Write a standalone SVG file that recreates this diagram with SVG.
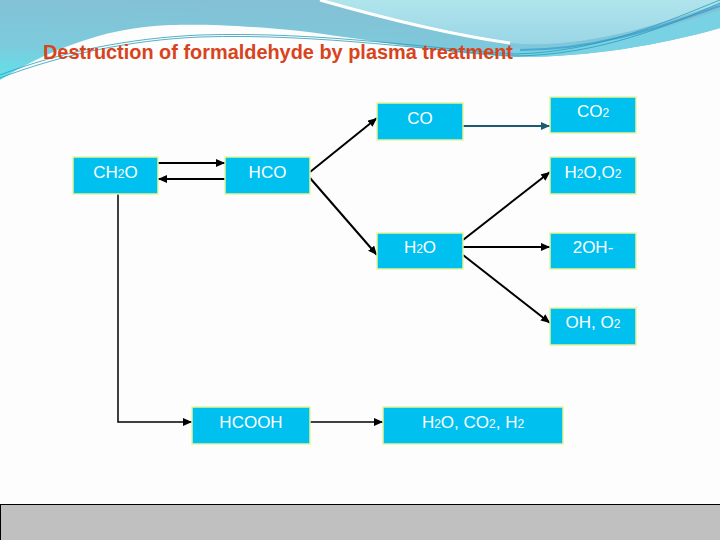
<svg xmlns="http://www.w3.org/2000/svg" width="720" height="540" viewBox="0 0 720 540">
  <defs>
    <linearGradient id="topGrad" x1="0.3" y1="0" x2="0" y2="1">
      <stop offset="0" stop-color="#84c0d6"/>
      <stop offset="0.6" stop-color="#7ccbdc"/>
      <stop offset="1" stop-color="#5fe3ec"/>
    </linearGradient>
    <linearGradient id="lightGrad" x1="0" y1="0" x2="0" y2="1">
      <stop offset="0" stop-color="#b0e4ec"/>
      <stop offset="1" stop-color="#9ad6e6"/>
    </linearGradient>
    <marker id="ah" markerUnits="userSpaceOnUse" markerWidth="9" markerHeight="8" refX="9" refY="4" orient="auto">
      <path d="M0,0 L9,4 L0,8 Z" fill="#000"/>
    </marker>
    <marker id="ahTeal" markerUnits="userSpaceOnUse" markerWidth="9" markerHeight="8" refX="9" refY="4" orient="auto">
      <path d="M0,0 L9,4 L0,8 Z" fill="#1d5a73"/>
    </marker>
    <style>
      .box { fill: #00c0f0; stroke: #e6f59a; stroke-width: 1.5; }
      .lbl { font-family: "Liberation Sans", Arial, sans-serif; font-size: 17px; fill: #ffffff; text-anchor: middle; }
      .sub { font-size: 12px; }
      .conn { fill: none; stroke: #000; stroke-width: 2; marker-end: url(#ah); }
      .thin { stroke-width: 1.5; }
      .teal { stroke: #1d5a73; marker-end: url(#ahTeal); }
      .wave { fill: none; stroke: #2b9cb8; stroke-width: 0.8; }
    </style>
  </defs>

  <!-- background -->
  <rect x="0" y="0" width="720" height="540" fill="#fdfdfd"/>
  <g id="background">
    <path d="M0,0 H720 V28 C660,45 590,57 520,57 C450,55 380,41 300,31 C240,25 200,24 170,25 C100,27 40,55 0,80 Z" fill="url(#topGrad)"/>
    <path d="M505,49 C590,52 660,30 720,10 V28 C660,45 590,57 520,57 Z" fill="#78d2e4"/>
    <path d="M320,0 C390,20 460,36 510,43 C580,50 660,25 720,3 V0 Z" fill="url(#lightGrad)"/>
    <path d="M320,0 C390,20 460,36 510,43" fill="none" stroke="#ffffff" stroke-width="3"/>
    <path d="M520,50 C600,50 665,25 720,6" fill="none" stroke="#4aa8d4" stroke-width="2"/>
    <path class="wave" d="M0,78 C60,55 130,40 200,37 C320,33 440,52 515,56 C600,55 670,25 720,3"/>
    <path class="wave" d="M0,75 C60,52 130,38 200,35 C320,31 440,50 515,54 C600,52 670,20 720,0"/>
  </g>

  <text x="43" y="59" textLength="470" lengthAdjust="spacingAndGlyphs" font-family="'Liberation Sans', Arial, sans-serif" font-size="21" font-weight="bold" fill="#d8431c">Destruction of formaldehyde by plasma treatment</text>

  <!-- connectors -->
  <g id="connectors">
    <path class="conn" d="M158,163 H225"/>
    <path class="conn" d="M225,179 H158"/>
    <path class="conn" d="M310,172 L377,118"/>
    <path class="conn" d="M310,178 L377,255"/>
    <path class="conn teal" d="M463,126 H550"/>
    <path class="conn" d="M463,240 L550,172"/>
    <path class="conn" d="M463,247 H550"/>
    <path class="conn" d="M463,255 L550,323"/>
    <path class="conn thin" d="M118,194 V422 H192"/>
    <path class="conn thin" d="M310,422 H383"/>
  </g>

  <!-- nodes -->
  <g id="node-ch2o">
    <rect class="box" x="73" y="157" width="85" height="37"/>
    <text class="lbl" x="115.5" y="178">CH<tspan class="sub">2</tspan>O</text>
  </g>
  <g id="node-hco">
    <rect class="box" x="225" y="157" width="85" height="37"/>
    <text class="lbl" x="267.5" y="178">HCO</text>
  </g>
  <g id="node-co">
    <rect class="box" x="377" y="103" width="86" height="37"/>
    <text class="lbl" x="420" y="124">CO</text>
  </g>
  <g id="node-co2">
    <rect class="box" x="550" y="97" width="86" height="36"/>
    <text class="lbl" x="593" y="117">CO<tspan class="sub">2</tspan></text>
  </g>
  <g id="node-h2o-o2">
    <rect class="box" x="550" y="157" width="86" height="37"/>
    <text class="lbl" x="593" y="178">H<tspan class="sub">2</tspan>O,O<tspan class="sub">2</tspan></text>
  </g>
  <g id="node-h2o">
    <rect class="box" x="377" y="233" width="86" height="36"/>
    <text class="lbl" x="420" y="253">H<tspan class="sub">2</tspan>O</text>
  </g>
  <g id="node-2oh">
    <rect class="box" x="550" y="233" width="86" height="36"/>
    <text class="lbl" x="593" y="253">2OH-</text>
  </g>
  <g id="node-oh-o2">
    <rect class="box" x="550" y="308" width="86" height="37"/>
    <text class="lbl" x="593" y="328">OH, O<tspan class="sub">2</tspan></text>
  </g>
  <g id="node-hcooh">
    <rect class="box" x="192" y="407" width="118" height="37"/>
    <text class="lbl" x="251" y="428">HCOOH</text>
  </g>
  <g id="node-products">
    <rect class="box" x="383" y="407" width="180" height="37"/>
    <text class="lbl" x="473" y="428">H<tspan class="sub">2</tspan>O, CO<tspan class="sub">2</tspan>, H<tspan class="sub">2</tspan></text>
  </g>

  <!-- footer bar -->
  <rect x="0.5" y="504.5" width="720" height="36" fill="#c0c0c0" stroke="#000" stroke-width="1"/>
</svg>
